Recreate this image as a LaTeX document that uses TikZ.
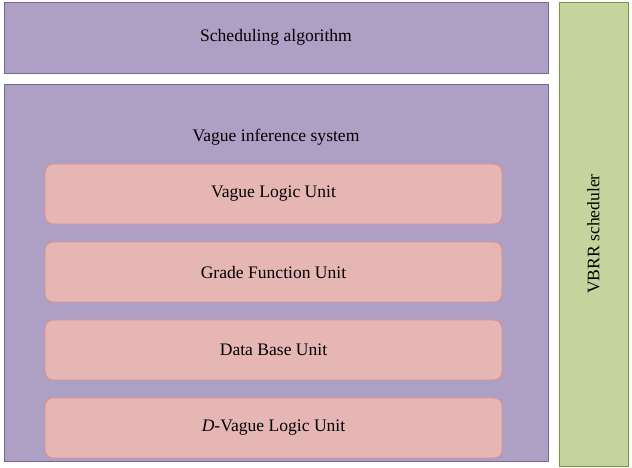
\documentclass[tikz,border=0pt]{standalone}
\usepackage{fontspec}
\setmainfont{Liberation Serif}
\usepackage[svgnames]{xcolor}
\definecolor{layerfill}{HTML}{AE9FC5}
\definecolor{layerline}{HTML}{7A6796}
\definecolor{unitfill}{HTML}{E6B6B5}
\definecolor{unitline}{HTML}{D9918F}
\definecolor{schedfill}{HTML}{C3D59C}
\definecolor{schedline}{HTML}{7A9641}

\begin{document}
\begin{tikzpicture}[font=\fontsize{15}{18}\selectfont,
	layer/.style={draw=layerline, fill=layerfill, line width=0.8pt, minimum width=16.32cm},
	unit/.style={draw=unitline, fill=unitfill, line width=0.8pt, rounded corners=0.24cm, minimum width=13.71cm, minimum height=1.8cm}]
	\useasboundingbox (0,0) rectangle (18.96,14.04);
	% outer layers
	\node[layer, minimum height=2.13cm] (algo) at (8.28,12.915) {Scheduling algorithm};
	\node[layer, minimum height=11.31cm] (vis) at (8.28,5.865) {};
	\node (vislabel) at (8.28,9.93) {Vague inference system};
	% units inside the inference system
	\node[unit] (vlu) at (8.205,8.22) {Vague Logic Unit};
	\node[unit] (gfu) at (8.205,5.88) {Grade Function Unit};
	\node[unit] (dbu) at (8.205,3.54) {Data Base Unit};
	\node[unit] (dvlu) at (8.205,1.20) {\textit{D}-Vague Logic Unit};
	% side bar
	\node[draw=schedline, fill=schedfill, line width=0.8pt, minimum width=2.07cm, minimum height=13.92cm] (vbrr) at (17.805,7.02) {};
	\node[rotate=90] (vbrrlabel) at (vbrr.center) {VBRR scheduler};
\end{tikzpicture}
\end{document}
